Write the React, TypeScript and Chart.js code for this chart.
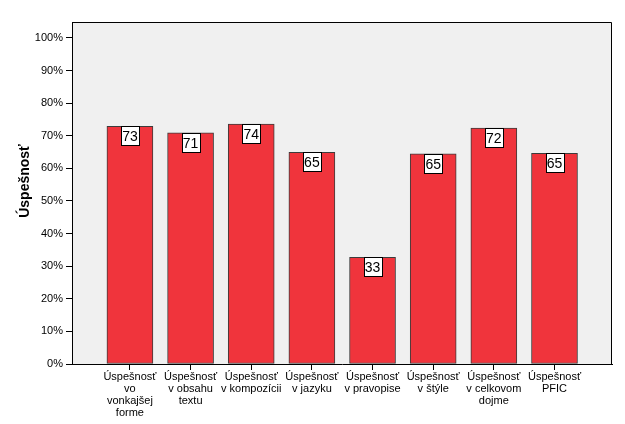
import React, { useEffect, useRef } from "react";
import { Chart, registerables } from "chart.js";

Chart.register(...registerables);

const categories: string[][] = [
  ["Úspešnosť", "vo", "vonkajšej", "forme"],
  ["Úspešnosť", "v obsahu", "textu"],
  ["Úspešnosť", "v kompozícii"],
  ["Úspešnosť", "v jazyku"],
  ["Úspešnosť", "v pravopise"],
  ["Úspešnosť", "v štýle"],
  ["Úspešnosť", "v celkovom", "dojme"],
  ["Úspešnosť", "PFIC"],
];
const values: number[] = [72.9, 70.9, 73.6, 64.9, 32.7, 64.5, 72.4, 64.6];
const yTicks: number[] = [0, 10, 20, 30, 40, 50, 60, 70, 80, 90, 100];
const yTitle = "Úspešnosť";

const FONT = "'Liberation Sans', Arial, sans-serif";

const framePlugin = {
  id: "frame",
  beforeDraw(chart: any) {
    const { ctx, chartArea: a } = chart;
    ctx.save();
    ctx.fillStyle = "#F0F0F0";
    ctx.fillRect(a.left, a.top, a.right - a.left, a.bottom - a.top);
    ctx.restore();
  },
  afterDraw(chart: any) {
    const { ctx, chartArea: a } = chart;
    ctx.save();
    ctx.strokeStyle = "#000";
    ctx.lineWidth = 1;
    ctx.beginPath();
    ctx.moveTo(a.left + 0.5, a.top + 0.5);
    ctx.lineTo(a.right - 0.5, a.top + 0.5);
    ctx.lineTo(a.right - 0.5, a.bottom);
    ctx.stroke();
    // y-axis title
    ctx.fillStyle = "#000";
    ctx.font = "bold 14px " + FONT;
    ctx.textAlign = "center";
    ctx.textBaseline = "alphabetic";
    ctx.translate(29, 181);
    ctx.rotate(-Math.PI / 2);
    ctx.fillText(yTitle, 0, 0);
    ctx.restore();
  },
};

const labelPlugin = {
  id: "valueLabels",
  afterDatasetsDraw(chart: any) {
    const { ctx } = chart;
    const meta = chart.getDatasetMeta(0);
    ctx.save();
    ctx.font = "14px " + FONT;
    ctx.textAlign = "center";
    ctx.textBaseline = "middle";
    meta.data.forEach((bar: any, i: number) => {
      const txt = String(Math.round(values[i]));
      const w = 18;
      const h = 19;
      const x = Math.round(bar.x - w / 2) + 0.5;
      const y = Math.round(bar.y) + 0.5;
      ctx.fillStyle = "#fff";
      ctx.fillRect(x, y, w, h);
      ctx.strokeStyle = "#000";
      ctx.lineWidth = 1;
      ctx.strokeRect(x, y, w, h);
      ctx.fillStyle = "#000";
      ctx.fillText(txt, bar.x, y + h / 2 + 1);
    });
    ctx.restore();
  },
};

export default function App() {
  const ref = useRef<HTMLCanvasElement>(null);
  useEffect(() => {
    document.body.style.margin = "0";
    const chart = new Chart(ref.current!, {
      type: "bar",
      data: {
        datasets: [
          {
            data: values.map((v, i) => ({ x: i, y: v })),
            backgroundColor: "rgb(240,52,60)",
            borderColor: "#3c3c3c",
            borderWidth: 1,
            borderSkipped: false,
            barThickness: 46,
          },
        ],
      },
      options: {
        responsive: false,
        animation: false,
        layout: { padding: { top: 22, right: 13, left: 0, bottom: 0 } },
        plugins: { legend: { display: false }, tooltip: { enabled: false } },
        scales: {
          x: {
            type: "linear",
            offset: false,
            min: -0.955,
            max: 7.948,
            afterFit(scale: any) {
              scale.height = 60;
            },
            afterBuildTicks(scale: any) {
              scale.ticks = categories.map((_, i) => ({ value: i }));
            },
            grid: {
              offset: false,
              drawOnChartArea: false,
              color: "#000",
              tickLength: 6,
            },
            border: { display: true, color: "#000" },
            ticks: {
              autoSkip: false,
              maxRotation: 0,
              minRotation: 0,
              padding: 1,
              color: "#000",
              font: { family: FONT, size: 11, lineHeight: 1.08 },
              callback: (v: any) => categories[v as number] ?? "",
            },
          },
          y: {
            min: 0,
            max: 104.9,
            afterFit(scale: any) {
              scale.width = 72;
            },
            afterBuildTicks(scale: any) {
              scale.ticks = yTicks.map((v) => ({ value: v }));
            },
            grid: {
              drawOnChartArea: false,
              color: "#000",
              tickLength: 6,
            },
            border: { display: true, color: "#000" },
            ticks: {
              padding: 3,
              color: "#000",
              font: { family: FONT, size: 11 },
              callback: (v: any) => v + "%",
            },
          },
        },
      },
      plugins: [framePlugin, labelPlugin],
    } as any);
    return () => chart.destroy();
  }, []);
  return (
    <div style={{ position: "absolute", left: 0, top: 0, width: 625, height: 424, background: "#fff" }}>
      <canvas ref={ref} width={625} height={424} />
    </div>
  );
}
